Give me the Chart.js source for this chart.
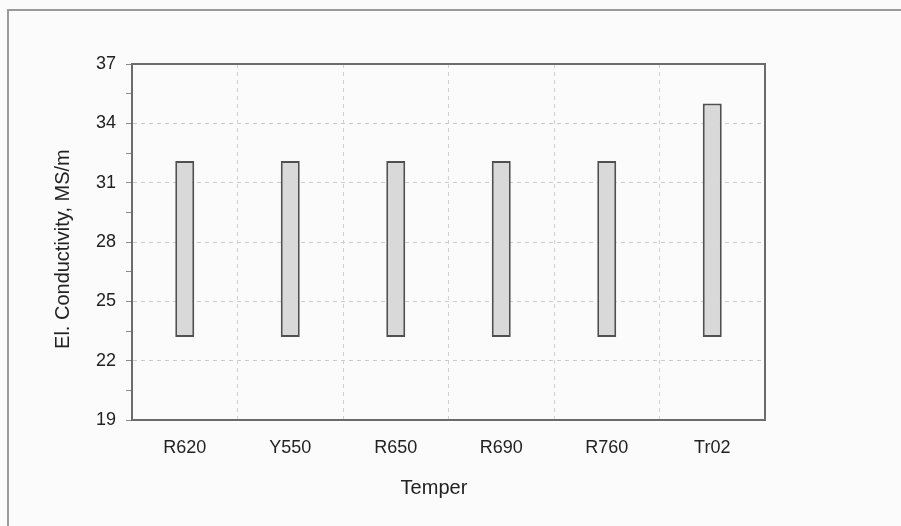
<!DOCTYPE html>
<html>
<head>
<meta charset="utf-8">
<script src="https://cdn.jsdelivr.net/npm/chart.js@4/dist/chart.umd.min.js"></script>
<style>
  html, body { margin: 0; padding: 0; background: #fff; }
  #wrap { position: relative; width: 901px; height: 526px; background: #fbfbfb; }
  #frame { position: absolute; left: 7px; top: 9px; right: 0; bottom: 0;
           border-top: 2px solid #9a9a9a; border-left: 2px solid #9a9a9a; }
  canvas { position: absolute; left: 0; top: 0; }
</style>
</head>
<body>
<div id="wrap">
  <div id="frame"></div>
  <canvas id="chart" width="901" height="526"></canvas>
</div>
<script>
// temper designations and conductivity ranges (MS/m)
const categories = ['R620', 'Y550', 'R650', 'R690', 'R760', 'Tr02'];
const lowValues = [23.2, 23.2, 23.2, 23.2, 23.2, 23.2];
const highValues = [32.1, 32.1, 32.1, 32.1, 32.1, 35.0];
const yTicks = [19, 22, 25, 28, 31, 34, 37];
const xTitle = 'Temper';
const yTitle = 'El. Conductivity, MS/m';

const ranges = categories.map((c, i) => [lowValues[i], highValues[i]]);

const fontFamily = 'Liberation Sans, Arial, sans-serif';
const font = { family: fontFamily, size: 18 };

// box around plot area + axis titles (the original puts them off-centre)
const boxPlugin = {
    id: 'box',
    afterDatasetsDraw(chart) {
        const a = chart.chartArea;
        const ctx = chart.ctx;
        ctx.save();
        ctx.strokeStyle = '#6b6b6b';
        ctx.lineWidth = 2;
        ctx.setLineDash([]);
        ctx.strokeRect(a.left, a.top, a.right - a.left, a.bottom - a.top);
        ctx.restore();
    },
    afterDraw(chart) {
        const ctx = chart.ctx;
        const a = chart.chartArea;
        ctx.save();
        ctx.fillStyle = '#222';
        ctx.font = '20px ' + fontFamily;
        ctx.textAlign = 'center';
        ctx.textBaseline = 'alphabetic';
        ctx.fillText(xTitle, a.left + (a.right - a.left) * 0.477, a.bottom + 74);
        ctx.translate(a.left - 63, a.top + (a.bottom - a.top) * 0.52);
        ctx.rotate(-Math.PI / 2);
        ctx.fillText(yTitle, 0, 0);
        ctx.restore();
    }
};

new Chart(document.getElementById('chart'), {
    type: 'bar',
    data: {
        labels: categories,
        datasets: [{
            data: ranges,
            backgroundColor: '#d9d9d9',
            borderColor: '#505050',
            borderWidth: 2,
            borderSkipped: false,
            barPercentage: 0.18,
            categoryPercentage: 1.0
        }]
    },
    options: {
        responsive: false,
        animation: false,
        layout: { padding: { top: 64, right: 136, left: 0, bottom: 0 } },
        plugins: { legend: { display: false }, tooltip: { enabled: false } },
        scales: {
            x: {
                offset: true,
                grid: {
                    offset: true,
                    color: '#d0d0d0',
                    lineWidth: 1,
                    drawTicks: false
                },
                border: { color: '#6b6b6b', width: 2, dash: [4, 4] },
                ticks: { color: '#222', font: font, padding: 17 },
                afterFit(scale) { scale.height = 106; }
            },
            y: {
                min: 19,
                max: 37,
                afterBuildTicks(scale) {
                    const t = [];
                    for (let v = 19; v <= 37; v += 1.5) t.push({ value: v });
                    scale.ticks = t;
                },
                grid: {
                    color: ctx => (ctx.tick && yTicks.includes(ctx.tick.value) && ctx.tick.value !== 19 && ctx.tick.value !== 37) ? '#cccccc' : 'rgba(0,0,0,0)',
                    tickColor: '#8a8a8a',
                    tickLength: 6,
                    tickWidth: 1
                },
                border: { color: '#6b6b6b', width: 2, dash: [4, 4] },
                ticks: {
                    color: '#222',
                    font: font,
                    padding: 10,
                    callback: v => yTicks.includes(v) ? String(v) : ''
                },
                afterFit(scale) { scale.width = 132; }
            }
        }
    },
    plugins: [boxPlugin]
});
</script>
</body>
</html>
